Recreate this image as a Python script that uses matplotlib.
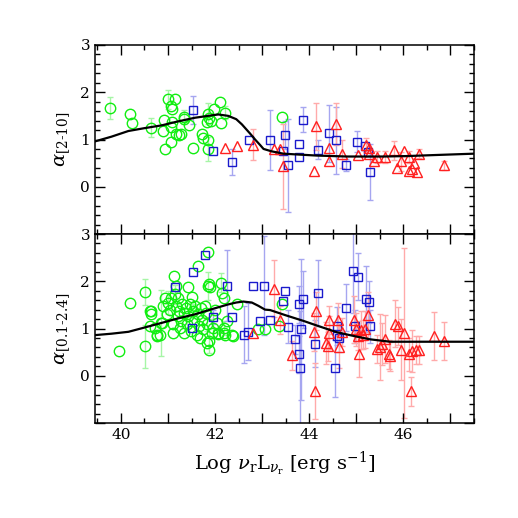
import numpy as np
import matplotlib
matplotlib.use('Agg')
import matplotlib.pyplot as plt
from matplotlib.ticker import MultipleLocator, FuncFormatter

plt.rcParams['font.family'] = ['DejaVu Serif']
plt.rcParams['mathtext.fontset'] = 'dejavuserif'

# ---- top panel: alpha[2-10] ----
top_green_x = [39.77, 40.19, 40.24, 40.65, 40.91, 40.89, 40.93, 41.00, 41.14, 41.06, 41.09,
               41.08, 41.06, 41.06, 41.17, 41.23, 41.27, 41.33, 41.35, 41.45, 41.53, 41.72,
               41.75, 41.84, 41.84, 41.84, 41.82, 41.91, 41.98, 42.10, 42.21, 42.13, 41.88, 43.42]
top_green_y = [1.67, 1.53, 1.34, 1.25, 1.41, 1.19, 0.80, 1.85, 1.85, 1.70, 1.65,
               1.37, 1.26, 0.94, 1.11, 1.09, 1.12, 1.48, 1.44, 1.30, 0.82, 1.12,
               1.04, 1.00, 0.80, 1.55, 1.36, 1.39, 1.65, 1.79, 1.57, 1.34, 1.45, 1.48]
top_green_e = [0.24, 0, 0, 0.20, 0, 0, 0, 0.20, 0, 0, 0,
               0, 0, 0, 0, 0, 0, 0.15, 0, 0, 0, 0,
               0, 0, 0.26, 0.22, 0, 0, 0, 0, 0.14, 0, 0, 0]

top_blue_x = [41.53, 41.96, 42.35, 42.73, 43.16, 43.49, 43.45, 43.54, 43.86, 43.79, 43.78,
              44.18, 44.43, 44.56, 44.79, 45.01, 45.19, 45.24, 45.30]
top_blue_y = [1.62, 0.75, 0.52, 0.99, 0.99, 1.09, 0.75, 0.45, 1.42, 0.91, 0.64,
              0.78, 1.13, 0.98, 0.46, 0.95, 0.87, 0.74, 0.31]
top_blue_e = [0.30, 0, 0.27, 0, 0.63, 0.30, 0, 0.98, 0.26, 0, 0,
              0.20, 0.60, 0.70, 0.12, 0.22, 0, 0, 0.60]

top_red_x = [42.21, 42.47, 42.80, 43.26, 43.37, 43.45, 44.11, 44.14, 44.41, 44.43, 44.57,
             44.70, 45.03, 45.21, 45.27, 45.27, 45.37, 45.44, 45.62, 45.81, 45.86, 45.96,
             46.02, 46.13, 46.23, 46.18, 46.13, 46.28, 46.34, 46.86]
top_red_y = [0.81, 0.86, 0.89, 0.80, 0.80, 0.43, 0.33, 1.28, 0.82, 0.54, 1.33,
             0.70, 0.68, 0.89, 0.82, 0.70, 0.54, 0.63, 0.63, 0.77, 0.40, 0.54,
             0.75, 0.63, 0.50, 0.38, 0.33, 0.31, 0.70, 0.45]
top_red_e = [0, 0, 0.33, 0, 0, 0.90, 0, 0.50, 0, 0, 0.45,
             0.30, 0, 0.15, 0, 0, 0, 0.12, 0.12, 0.20, 0, 0.20,
             0, 0.12, 0, 0, 0, 0, 0.10, 0.10]

top_curve_x = [39.45, 39.8, 40.16, 40.5, 40.87, 41.2, 41.57, 41.85, 42.07, 42.28, 42.45,
               42.57, 42.74, 42.85, 42.96, 43.03, 43.2, 43.45, 43.8, 44.16, 44.8, 45.58,
               46.1, 46.64, 47.5]
top_curve_y = [0.96, 1.06, 1.18, 1.24, 1.30, 1.38, 1.46, 1.50, 1.53, 1.50, 1.43,
               1.32, 1.13, 1.00, 0.88, 0.80, 0.75, 0.70, 0.68, 0.66, 0.64, 0.64,
               0.65, 0.67, 0.70]

# ---- bottom panel: alpha[0.1-2.4] ----
bot_green_x = [39.96, 40.19, 40.51, 40.51, 40.64, 40.65, 40.76, 40.72, 40.87, 40.90, 40.94,
               40.97, 41.01, 41.04, 41.06, 41.10, 41.11, 41.13, 41.15, 41.17, 41.18, 41.21,
               41.22, 41.24, 41.26, 41.28, 41.30, 41.33, 41.35, 41.38, 41.40, 41.42, 41.43,
               41.47, 41.49, 41.52, 41.54, 41.56, 41.57, 41.61, 41.63, 41.64, 41.66, 41.68,
               41.70, 41.73, 41.75, 41.79, 41.81, 41.82, 41.84, 41.84, 41.87, 41.89, 41.88,
               41.88, 41.93, 41.96, 42.00, 42.04, 42.07, 42.13, 42.14, 42.18, 42.20, 42.21,
               42.25, 42.36, 42.46, 42.39, 42.18, 42.07, 41.82, 40.82, 40.76, 40.62, 40.62,
               40.85, 43.42, 43.35, 42.92, 43.06]
bot_green_y = [0.52, 1.53, 0.62, 1.77, 1.37, 1.30, 0.87, 1.01, 1.12, 1.47, 1.65,
               1.30, 1.55, 1.40, 1.65, 1.09, 0.91, 2.11, 1.72, 1.90, 1.47, 1.26,
               1.65, 1.37, 1.01, 1.16, 1.51, 0.91, 1.33, 1.44, 1.09, 1.88, 1.26,
               1.51, 0.94, 1.67, 1.37, 1.16, 1.47, 0.87, 2.33, 1.30, 1.05, 0.80,
               1.44, 1.19, 0.98, 1.47, 1.33, 1.09, 2.61, 1.90, 1.95, 1.87, 0.73,
               0.55, 0.91, 1.01, 1.40, 1.12, 0.91, 1.97, 1.76, 1.65, 1.01, 0.87,
               1.16, 0.86, 1.51, 0.85, 0.91, 0.89, 0.69, 0.87, 0.84, 1.05, 1.37,
               1.12, 1.51, 1.06, 1.00, 0.98]
bot_green_e = [0, 0, 0.45, 0.27, 0, 0, 0, 0, 0, 0, 0,
               0, 0.25, 0, 0, 0, 0, 0, 0.20, 0, 0, 0,
               0, 0, 0, 0, 0, 0, 0, 0, 0.15, 0, 0,
               0, 0, 0, 0.15, 0, 0, 0, 0, 0, 0, 0,
               0, 0, 0, 0, 0, 0.15, 0, 0.30, 0, 0, 0.25,
               0, 0, 0.20, 0, 0, 0, 0.20, 0, 0, 0.15, 0,
               0, 0, 0, 0, 0, 0, 0, 0, 0, 0, 0,
               0.70, 0, 0, 0, 0]

bot_blue_x = [41.79, 41.54, 41.15, 42.26, 41.96, 41.52, 42.36, 42.62, 42.71, 42.81, 42.96,
              43.05, 43.17, 43.49, 43.45, 43.54, 43.69, 43.79, 43.86, 43.83, 43.79, 43.81,
              44.18, 44.13, 44.59, 44.59, 44.64, 44.55, 44.79, 44.94, 45.03, 44.98, 45.21,
              45.26, 45.30]
bot_blue_y = [2.56, 2.20, 1.87, 1.91, 1.24, 1.01, 1.25, 0.87, 0.93, 1.90, 1.16,
              1.91, 1.19, 1.79, 1.58, 1.04, 0.77, 1.51, 1.62, 0.98, 0.45, 0.16,
              1.76, 0.68, 1.05, 0.85, 0.80, 0.16, 1.44, 2.22, 2.10, 1.05, 1.62,
              1.56, 1.05]
bot_blue_e = [0, 0, 0, 0.75, 0.15, 0, 0, 0.60, 0.60, 0, 0,
              1.05, 0, 0, 0, 0.35, 0.30, 0.40, 0.60, 1.50, 0.40, 1.20,
              0.70, 0.50, 0.40, 0, 0.30, 0.60, 0.50, 0.90, 0.50, 0.35, 0.70,
              0.45, 0.35]

bot_red_x = [42.80, 43.26, 43.38, 43.64, 44.14, 44.11, 44.13, 44.36, 44.41, 44.43, 44.39,
             44.62, 44.64, 44.69, 44.96, 45.00, 45.03, 45.05, 45.09, 45.14, 45.19, 45.25,
             45.43, 45.50, 45.55, 45.60, 45.69, 45.72, 45.83, 45.88, 45.95, 46.02, 46.13,
             46.16, 46.18, 46.26, 46.34, 46.65, 46.86]
bot_red_y = [0.91, 1.84, 1.18, 0.43, 1.37, 0.92, -0.32, 0.69, 1.18, 0.91, 0.62,
             1.19, 0.61, 0.92, 1.19, 0.98, 0.85, 0.47, 0.96, 0.87, 0.98, 1.28,
             0.57, 0.61, 0.67, 0.78, 0.45, 0.41, 1.10, 1.05, 0.55, 0.91, 0.45,
             -0.33, 0.52, 0.55, 0.55, 0.84, 0.74]
bot_red_e = [0, 0.60, 0.30, 0.30, 0.40, 0.40, 0.60, 0.45, 0.30, 0.35, 0.30,
             0.35, 0.45, 0.30, 0.50, 0.35, 0.30, 0.50, 0.40, 0.30, 0.40, 0.50,
             0.30, 0.70, 0.45, 0.50, 0.30, 0.30, 0.50, 0.40, 0.65, 1.80, 0.35,
             0.30, 0.45, 0.30, 0.30, 0.50, 0.40]

bot_curve_x = [39.45, 39.8, 40.16, 40.5, 40.87, 41.2, 41.57, 41.9, 42.28, 42.45, 42.6,
               42.78, 42.92, 43.06, 43.17, 43.5, 43.88, 44.2, 44.59, 45.0, 45.3, 45.72,
               46.2, 46.72, 47.5]
bot_curve_y = [0.86, 0.89, 0.93, 1.02, 1.12, 1.21, 1.30, 1.40, 1.51, 1.55, 1.57,
               1.55, 1.48, 1.40, 1.39, 1.28, 1.16, 1.05, 0.92, 0.83, 0.77, 0.72,
               0.72, 0.72, 0.72]

GREEN, GREEN_E = '#11ee11', '#a6f5a6'
BLUE, BLUE_E = '#1a1acc', '#a6a6f0'
RED, RED_E = '#ff2020', '#ffaaaa'


def scatter_err(ax, x, y, e, color, ecolor, marker, ms):
    x, y, e = np.array(x), np.array(y), np.array(e)
    m = e > 0
    ax.errorbar(x[m], y[m], yerr=e[m], fmt='none', ecolor=ecolor, elinewidth=1.0,
                capsize=2.5, capthick=1.0, zorder=1)
    ax.plot(x, y, linestyle='none', marker=marker, ms=ms, mfc='none', mec=color,
            mew=1.0, zorder=3)


def style_axis(ax, show_x):
    ax.set_xlim(39.45, 47.5)
    ax.set_ylim(-1, 3)
    ax.xaxis.set_major_locator(MultipleLocator(1))
    ax.xaxis.set_minor_locator(MultipleLocator(0.5))
    ax.yaxis.set_major_locator(MultipleLocator(1))
    ax.yaxis.set_minor_locator(MultipleLocator(0.2))
    ax.tick_params(which='both', direction='in', top=True, right=True, width=1.0,
                   labelsize=11)
    ax.tick_params(which='major', length=7)
    ax.tick_params(which='minor', length=3.5)
    ax.yaxis.set_major_formatter(FuncFormatter(lambda v, p: '' if v < -0.5 else '%d' % v))
    if show_x:
        ax.xaxis.set_major_formatter(FuncFormatter(lambda v, p: '%d' % v if int(round(v)) % 2 == 0 else ''))
    else:
        ax.tick_params(labelbottom=False)
    for s in ax.spines.values():
        s.set_linewidth(1.1)


def main():
    fig = plt.figure(figsize=(5.18, 5.18), dpi=100)
    ax_top = fig.add_axes([95 / 518, 1 - 234 / 518, 379 / 518, 189 / 518])
    ax_bot = fig.add_axes([95 / 518, 1 - 423 / 518, 379 / 518, 189 / 518])

    scatter_err(ax_top, top_green_x, top_green_y, top_green_e, GREEN, GREEN_E, 'o', 7.5)
    scatter_err(ax_top, top_blue_x, top_blue_y, top_blue_e, BLUE, BLUE_E, 's', 5.5)
    scatter_err(ax_top, top_red_x, top_red_y, top_red_e, RED, RED_E, '^', 6.5)
    ax_top.plot(top_curve_x, top_curve_y, color='black', lw=1.6, zorder=4)

    scatter_err(ax_bot, bot_green_x, bot_green_y, bot_green_e, GREEN, GREEN_E, 'o', 7.5)
    scatter_err(ax_bot, bot_blue_x, bot_blue_y, bot_blue_e, BLUE, BLUE_E, 's', 5.5)
    scatter_err(ax_bot, bot_red_x, bot_red_y, bot_red_e, RED, RED_E, '^', 6.5)
    ax_bot.plot(bot_curve_x, bot_curve_y, color='black', lw=1.6, zorder=4)

    style_axis(ax_top, False)
    style_axis(ax_bot, True)

    ax_top.set_ylabel(r'$\alpha_{[2\text{-}10]}$', fontsize=14, labelpad=6)
    ax_bot.set_ylabel(r'$\alpha_{[0.1\text{-}2.4]}$', fontsize=14, labelpad=6)
    ax_bot.set_xlabel(r'Log $\nu_{\rm r}{\rm L}_{\nu_{\rm r}}$ [erg s$^{-1}$]',
                      fontsize=14, labelpad=6)

    fig.savefig('out.png', dpi=100)


if __name__ == '__main__':
    main()
